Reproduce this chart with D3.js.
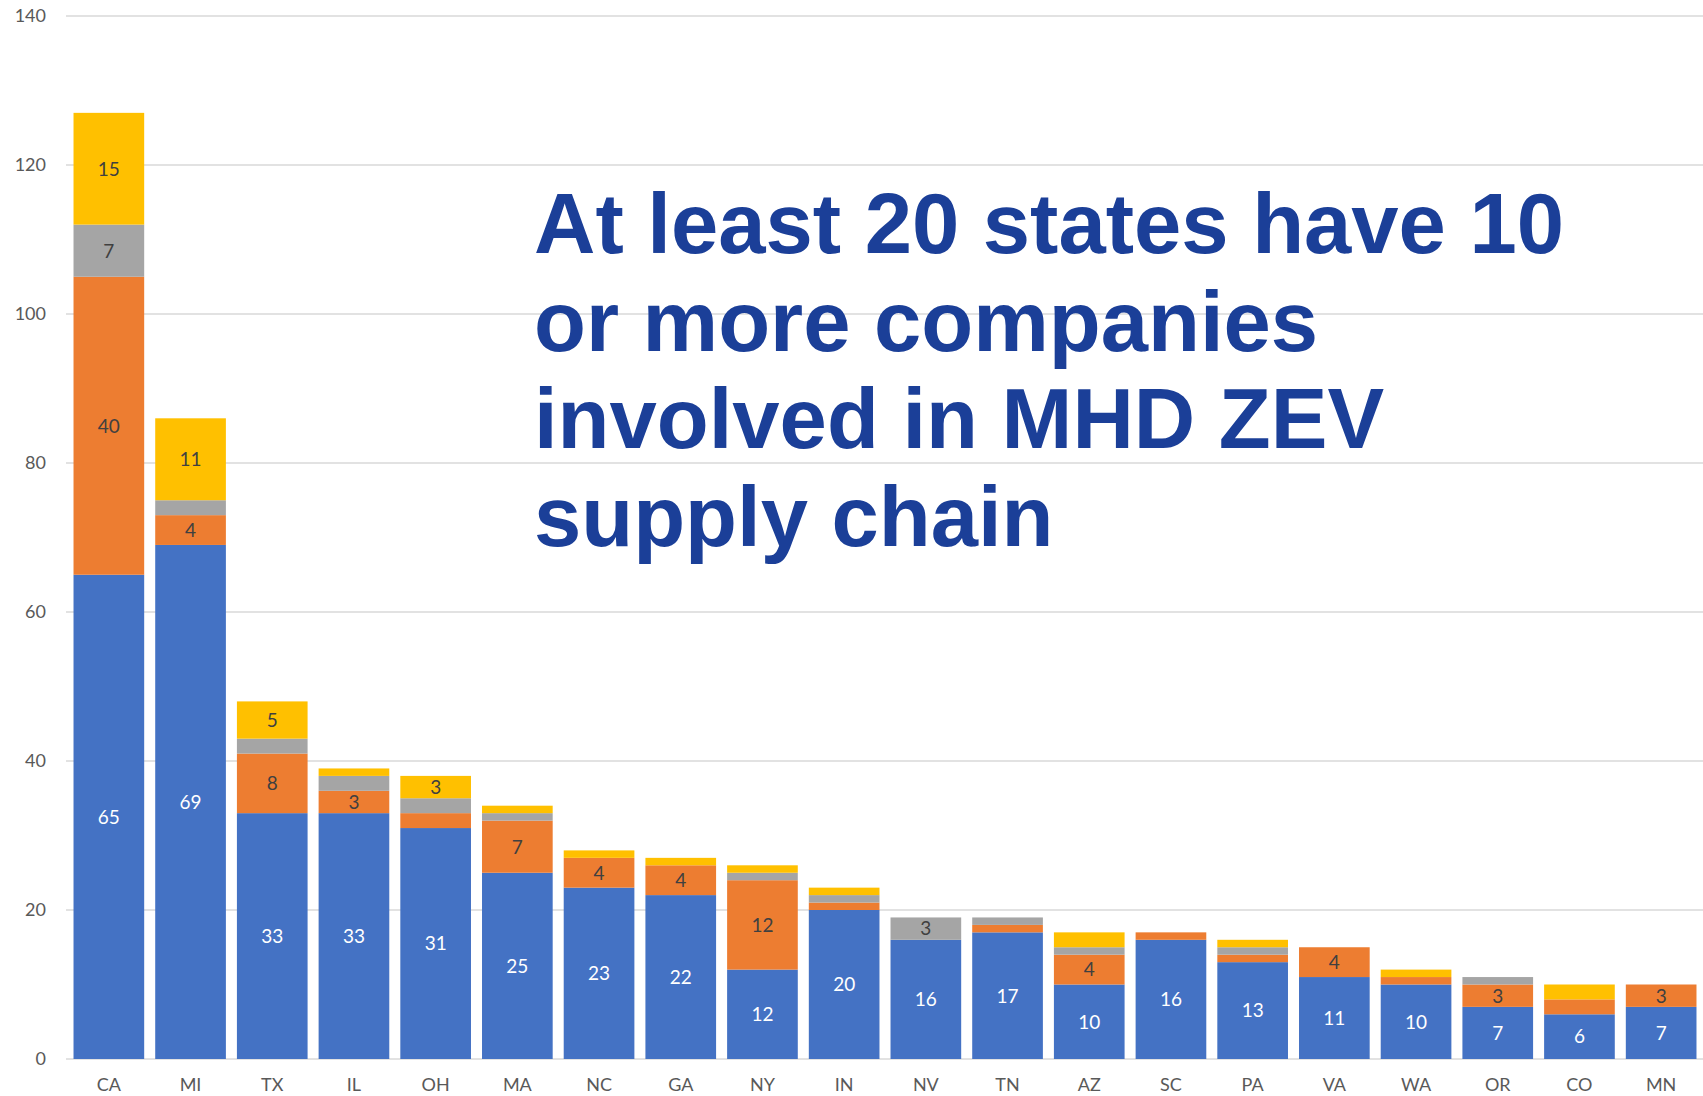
<!DOCTYPE html>
<html>
<head>
<meta charset="utf-8">
<script src="https://cdn.jsdelivr.net/npm/d3@7"></script>
<style>
  body { margin: 0; background: #fff; }
  svg { display: block; }
</style>
</head>
<body>
<div id="chart"></div>
<script>
// states, in chart order
const states = ["CA", "MI", "TX", "IL", "OH", "MA", "NC", "GA", "NY", "IN",
                "NV", "TN", "AZ", "SC", "PA", "VA", "WA", "OR", "CO", "MN"];

// stacked series, bottom to top
const seriesBlue   = [65, 69, 33, 33, 31, 25, 23, 22, 12, 20, 16, 17, 10, 16, 13, 11, 10, 7, 6, 7];
const seriesOrange = [40,  4,  8,  3,  2,  7,  4,  4, 12,  1,  0,  1,  4,  1,  1,  4,  1, 3, 2, 3];
const seriesGray   = [ 7,  2,  2,  2,  2,  1,  0,  0,  1,  1,  3,  1,  1,  0,  1,  0,  0, 1, 0, 0];
const seriesYellow = [15, 11,  5,  1,  3,  1,  1,  1,  1,  1,  0,  0,  2,  0,  1,  0,  1, 0, 2, 0];

const yTicks = [0, 20, 40, 60, 80, 100, 120, 140];

const titleLines = ["At least 20 states have 10", "or more companies",
                    "involved in MHD ZEV", "supply chain"];

const W = 1703, H = 1096;
const keys = ["blue", "orange", "gray", "yellow"];
const colors = {blue: "#4472C4", orange: "#ED7D31", gray: "#A5A5A5", yellow: "#FFC000"};

const rows = states.map((s, i) => ({
    state: s,
    blue: seriesBlue[i],
    orange: seriesOrange[i],
    gray: seriesGray[i],
    yellow: seriesYellow[i]
}));

const svg = d3.select("#chart")
    .append("svg")
    .attr("width", W)
    .attr("height", H);

const x = d3.scaleBand()
    .domain(states)
    .range([68, 1702])
    .paddingInner(0.135)
    .paddingOuter(0.0675);

const y = d3.scaleLinear()
    .domain([0, 140])
    .range([1059, 16]);

// gridlines
svg.append("g")
    .selectAll("line")
    .data(yTicks)
    .join("line")
    .attr("x1", 66)
    .attr("x2", W)
    .attr("y1", d => y(d))
    .attr("y2", d => y(d))
    .attr("stroke", "#D9D9D9")
    .attr("stroke-width", 1.5);

// y axis labels
svg.append("g")
    .selectAll("text")
    .data(yTicks)
    .join("text")
    .attr("x", 46)
    .attr("y", d => y(d))
    .attr("dy", "0.35em")
    .attr("text-anchor", "end")
    .attr("font-family", "Lato, 'Open Sans', sans-serif")
    .attr("font-size", 18)
    .attr("fill", "#595959")
    .text(d => d);

// stacked bars
const stacked = d3.stack().keys(keys)(rows);

const layers = svg.append("g")
    .selectAll("g")
    .data(stacked)
    .join("g")
    .attr("fill", d => colors[d.key]);

layers.selectAll("rect")
    .data(d => d)
    .join("rect")
    .attr("x", d => x(d.data.state))
    .attr("width", x.bandwidth())
    .attr("y", d => y(d[1]))
    .attr("height", d => y(d[0]) - y(d[1]));

// data labels (only segments of 3 or more)
layers.each(function(layer) {
    d3.select(this).selectAll("text")
        .data(layer.filter(d => d[1] - d[0] >= 3))
        .join("text")
        .attr("x", d => x(d.data.state) + x.bandwidth() / 2)
        .attr("y", d => y((d[0] + d[1]) / 2))
        .attr("dy", "0.36em")
        .attr("text-anchor", "middle")
        .attr("font-family", "Lato, 'Open Sans', sans-serif")
        .attr("font-size", 19)
        .attr("fill", layer.key === "blue" ? "#FFFFFF" : "#404040")
        .text(d => d[1] - d[0]);
});

// x axis labels
svg.append("g")
    .selectAll("text")
    .data(states)
    .join("text")
    .attr("x", d => x(d) + x.bandwidth() / 2)
    .attr("y", 1085)
    .attr("dy", "0.35em")
    .attr("text-anchor", "middle")
    .attr("font-family", "Lato, 'Open Sans', sans-serif")
    .attr("font-size", 18)
    .attr("fill", "#595959")
    .text(d => d);

// big headline
svg.append("text")
    .attr("font-family", "'Liberation Sans', Arial, sans-serif")
    .attr("font-weight", "bold")
    .attr("font-size", 85)
    .attr("fill", "#1B3F98")
    .selectAll("tspan")
    .data(titleLines)
    .join("tspan")
    .attr("x", 534)
    .attr("y", (d, i) => 253 + i * 97.5)
    .text(d => d);
</script>
</body>
</html>
